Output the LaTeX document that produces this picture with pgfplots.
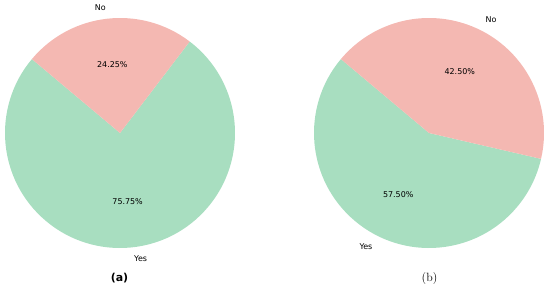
\documentclass[border=0pt]{standalone}
\usepackage{pgfplots}
\pgfplotsset{compat=1.18}
\usepackage{pgfplotstable}
\usepackage{fontspec}
\newfontfamily\dejavu{DejaVu Sans}

\definecolor{yescol}{RGB}{168,222,192}
\definecolor{nocol}{RGB}{244,184,178}

% shares in percent, wedges start at 140 deg and run counterclockwise
\pgfplotstableread{
answer pct
Yes 75.75
No  24.25
}\pieA
\pgfplotstableread{
answer pct
Yes 57.50
No  42.50
}\pieB

\begin{document}
\begin{tikzpicture}
\pgfplotstablegetelem{0}{pct}\of\pieA \pgfmathsetmacro\yesA{\pgfplotsretval}
\pgfplotstablegetelem{1}{pct}\of\pieA \pgfmathsetmacro\noA{\pgfplotsretval}
\pgfplotstablegetelem{0}{pct}\of\pieB \pgfmathsetmacro\yesB{\pgfplotsretval}
\pgfplotstablegetelem{1}{pct}\of\pieB \pgfmathsetmacro\noB{\pgfplotsretval}
\pgfmathsetmacro\sA{140}
\pgfmathsetmacro\eA{\sA+3.6*\yesA}
\pgfmathsetmacro\mYesA{\sA+1.8*\yesA}
\pgfmathsetmacro\mNoA{\eA+1.8*\noA}
\pgfmathsetmacro\sB{140}
\pgfmathsetmacro\eB{\sB+3.6*\yesB}
\pgfmathsetmacro\mYesB{\sB+1.8*\yesB}
\pgfmathsetmacro\mNoB{\eB+1.8*\noB}
\begin{axis}[
    hide axis, scale only axis, clip=false,
    width=550bp, height=291bp,
    xmin=0, xmax=550, ymin=0, ymax=291,
]
\path (axis cs:0,0) rectangle (axis cs:550,291);
% (a)  -- overlay so the arc control points do not widen the bounding box
\fill[yescol, overlay] (axis cs:120,158) -- (axis cs:{120+115*cos(\sA)},{158+115*sin(\sA)})
    arc[start angle=\sA, end angle=\eA, radius=115] -- cycle;
\fill[nocol, overlay] (axis cs:120,158) -- (axis cs:{120+115*cos(\eA)},{158+115*sin(\eA)})
    arc[start angle=\eA, end angle=\sA+360, radius=115] -- cycle;
\begin{scope}[every node/.style={font=\dejavu\fontsize{8}{9}\selectfont, inner sep=0pt}]
\node at (axis cs:{120+69*cos(\mYesA)},{158+69*sin(\mYesA)}) {75.75\%};
\node at (axis cs:{120+69*cos(\mNoA)},{158+69*sin(\mNoA)}) {24.25\%};
\node[anchor=west] at (axis cs:{120+126.5*cos(\mYesA)},{158+126.5*sin(\mYesA)}) {Yes};
\node[anchor=east] at (axis cs:{120+126.5*cos(\mNoA)},{158+126.5*sin(\mNoA)}) {No};
\end{scope}
% (b)
\fill[yescol, overlay] (axis cs:429,158) -- (axis cs:{429+115*cos(\sB)},{158+115*sin(\sB)})
    arc[start angle=\sB, end angle=\eB, radius=115] -- cycle;
\fill[nocol, overlay] (axis cs:429,158) -- (axis cs:{429+115*cos(\eB)},{158+115*sin(\eB)})
    arc[start angle=\eB, end angle=\sB+360, radius=115] -- cycle;
\begin{scope}[every node/.style={font=\dejavu\fontsize{8}{9}\selectfont, inner sep=0pt}]
\node at (axis cs:{429+69*cos(\mYesB)},{158+69*sin(\mYesB)}) {57.50\%};
\node at (axis cs:{429+69*cos(\mNoB)},{158+69*sin(\mNoB)}) {42.50\%};
\node[anchor=east] at (axis cs:{429+126.5*cos(\mYesB)},{158+126.5*sin(\mYesB)}) {Yes};
\node[anchor=west] at (axis cs:{429+126.5*cos(\mNoB)},{158+126.5*sin(\mNoB)}) {No};
\end{scope}
\node[font=\dejavu\bfseries\fontsize{11}{13}\selectfont] at (axis cs:119.5,12.5) {(a)};
\node[font=\fontsize{12}{14}\selectfont] at (axis cs:429.5,12.5) {(b)};
\end{axis}
\end{tikzpicture}
\end{document}
